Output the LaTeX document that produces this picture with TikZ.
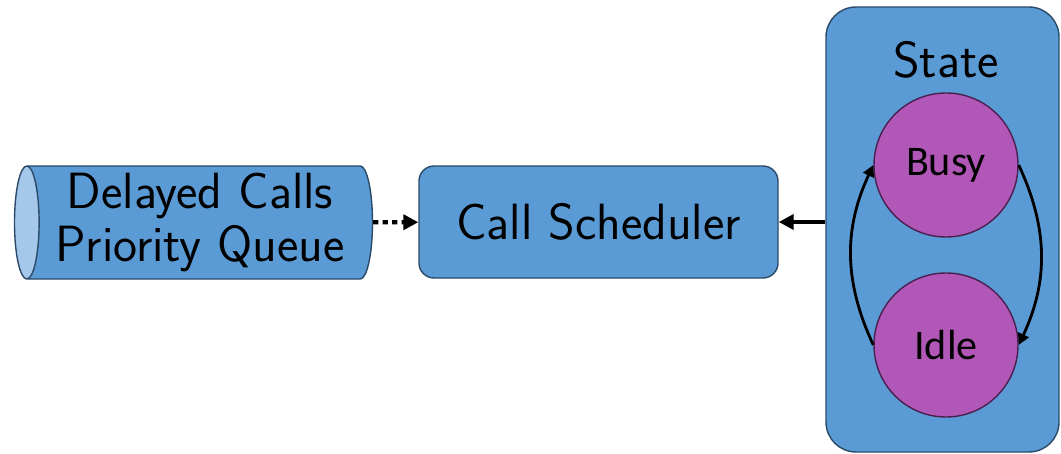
\documentclass[tikz,border=0pt]{standalone}
\usepackage{fontspec}
\newfontfamily\statefont{Carlito}
\usetikzlibrary{arrows.meta,positioning,shapes.geometric}
\definecolor{boxblue}{HTML}{5B9BD5}
\definecolor{boxedge}{HTML}{2A4A68}
\definecolor{capblue}{HTML}{A5C8EA}
\definecolor{statepurple}{HTML}{B157B8}
\definecolor{stateedge}{HTML}{4B1F50}
\tikzset{
  bigtext/.style={
    font=\sffamily\fontsize{29}{30}\selectfont
  },
  queuebox/.style={
    cylinder,
    shape border rotate=180,
    aspect=0.25,
    draw=boxedge,
    thick,
    cylinder uses custom fill,
    cylinder body fill=boxblue,
    cylinder end fill=capblue,
    minimum width=2.26cm,
    minimum height=7.16cm,
    inner sep=0pt,
    align=center,
    bigtext
  },
  schedbox/.style={
    rounded corners=0.3cm,
    draw=boxedge,
    fill=boxblue,
    thick,
    minimum width=7.18cm,
    minimum height=2.24cm,
    bigtext
  },
  statebox/.style={
    rounded corners=0.6cm,
    draw=boxedge,
    fill=boxblue,
    thick,
    minimum width=4.66cm,
    minimum height=8.9cm
  },
  statecircle/.style={
    circle,
    draw=stateedge,
    fill=statepurple,
    thick,
    minimum size=2.88cm,
    inner sep=0pt,
    font=\statefont\fontsize{24}{28}\selectfont
  },
  arrow/.style={
    -{Triangle[length=8.5pt,width=8.5pt]},
    line width=2.4pt
  },
  dotarrow/.style={
    arrow,
    dash pattern=on 3pt off 2.4pt
  },
  looparrow/.style={
    -{Triangle[length=6.5pt,width=6.5pt]},
    line width=1.6pt
  }
}
\begin{document}
\begin{tikzpicture}
\useasboundingbox (0,0) rectangle (21.22,9.06);
\node[queuebox] (queue) at (4.0,4.61) {Delayed Calls\\Priority Queue};
\node[schedbox] (sched) at (11.97,4.62) {Call Scheduler};
\node[statebox] (state) at (18.85,4.47) {};
\node[bigtext] (statelabel) at (18.92,7.86) {State};
\node[statecircle] (busy) at (18.92,5.76) {Busy};
\node[statecircle] (idle) at (18.92,2.16) {Idle};
\draw[dotarrow] (queue) -- (sched);
\draw[arrow] (state.west |- sched) -- (sched.east);
\draw[looparrow] (busy.east) to[bend left=25] (idle.east);
\draw[looparrow] (idle.west) to[bend left=25] (busy.west);
\end{tikzpicture}
\end{document}
